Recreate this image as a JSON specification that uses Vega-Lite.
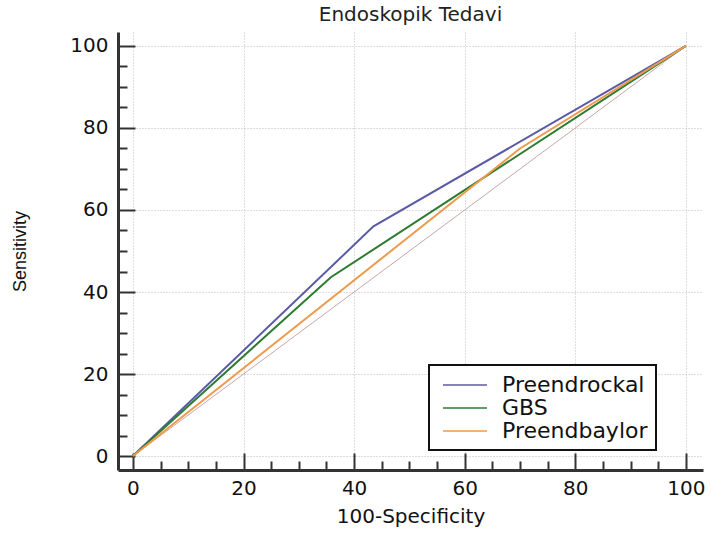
{
  "$schema": "https://vega.github.io/schema/vega-lite/v6.json",
  "autosize": "none",
  "width": 585,
  "height": 438,
  "padding": {"left": 118, "top": 32, "right": 8, "bottom": 66},
  "background": "white",
  "title": {"text": "Endoskopik Tedavi", "font": "DejaVu Sans", "fontSize": 20, "fontWeight": "normal", "color": "#222222", "offset": 7},
  "config": {"view": {"stroke": null}, "legend": {"strokeWidth": 2}},
  "datasets": {
    "roc": [
      {"series": "Preendrockal", "fpr": 0, "tpr": 0},
      {"series": "Preendrockal", "fpr": 43.5, "tpr": 56},
      {"series": "Preendrockal", "fpr": 100, "tpr": 100},
      {"series": "GBS", "fpr": 0, "tpr": 0},
      {"series": "GBS", "fpr": 35.8, "tpr": 43.6},
      {"series": "GBS", "fpr": 100, "tpr": 100},
      {"series": "Preendbaylor", "fpr": 0, "tpr": 0},
      {"series": "Preendbaylor", "fpr": 70, "tpr": 75},
      {"series": "Preendbaylor", "fpr": 100, "tpr": 100}
    ],
    "diag": [{"fpr": 0, "tpr": 0}, {"fpr": 100, "tpr": 100}]
  },
  "layer": [
    {
      "data": {"name": "diag"},
      "mark": {"type": "line", "color": "#c9a7a7", "strokeWidth": 1},
      "encoding": {
        "x": {"field": "fpr", "type": "quantitative", "scale": {"domain": [-2.7, 103.1], "nice": false, "zero": false},
          "axis": {"orient": "bottom", "values": [0, 20, 40, 60, 80, 100], "title": "100-Specificity", "titleFont": "DejaVu Sans", "titleFontSize": 20, "titleFontWeight": "normal", "titleColor": "#111111", "titlePadding": 8,
            "labelFont": "DejaVu Sans", "labelFontSize": 20, "labelColor": "#111111", "labelPadding": 25,
            "tickSize": -17, "tickWidth": 2, "tickColor": "#333333", "domainWidth": 3, "domainColor": "#333333",
            "grid": true, "gridDash": [1, 2], "gridColor": "#bdbdbd", "gridWidth": 1}},
        "y": {"field": "tpr", "type": "quantitative", "scale": {"domain": [-3.4, 103.4], "nice": false, "zero": false},
          "axis": {"orient": "left", "values": [0, 20, 40, 60, 80, 100], "title": "Sensitivity", "titleFont": "Liberation Sans", "titleFontSize": 18, "titleFontWeight": "normal", "titleColor": "#111111", "titlePadding": 40,
            "labelFont": "DejaVu Sans", "labelFontSize": 20, "labelColor": "#111111", "labelPadding": 27,
            "tickSize": -17, "tickWidth": 2, "tickColor": "#333333", "domainWidth": 3, "domainColor": "#333333",
            "grid": true, "gridDash": [1, 2], "gridColor": "#bdbdbd", "gridWidth": 1}}
      }
    },
    {
      "data": {"name": "roc"},
      "mark": {"type": "line", "strokeWidth": 2},
      "encoding": {
        "x": {"field": "fpr", "type": "quantitative",
          "axis": {"orient": "bottom", "values": [5, 10, 15, 25, 30, 35, 45, 50, 55, 65, 70, 75, 85, 90, 95], "labels": false, "title": null, "domain": false, "grid": false, "tickSize": -9, "tickWidth": 2, "tickColor": "#333333"}},
        "y": {"field": "tpr", "type": "quantitative",
          "axis": {"orient": "left", "values": [5, 10, 15, 25, 30, 35, 45, 50, 55, 65, 70, 75, 85, 90, 95], "labels": false, "title": null, "domain": false, "grid": false, "tickSize": -9, "tickWidth": 2, "tickColor": "#333333"}},
        "color": {"field": "series", "type": "nominal",
          "scale": {"domain": ["Preendrockal", "GBS", "Preendbaylor"], "range": ["#5b5ba5", "#2e7b32", "#ee9a4d"]},
          "legend": {"orient": "none", "legendX": 311, "legendY": 333, "title": null, "padding": 8,
            "strokeColor": "#111111", "fillColor": "white",
            "symbolType": "M-2,0H2", "symbolSize": 484, "symbolStrokeWidth": 1.5, "symbolOffset": 16,
            "labelFont": "DejaVu Sans", "labelFontSize": 22, "labelColor": "#111111", "labelOffset": 25, "labelLimit": 400,
            "rowPadding": 0}},
        "order": {"field": "fpr"}
      }
    }
  ],
  "resolve": {"axis": {"x": "independent", "y": "independent"}}
}
